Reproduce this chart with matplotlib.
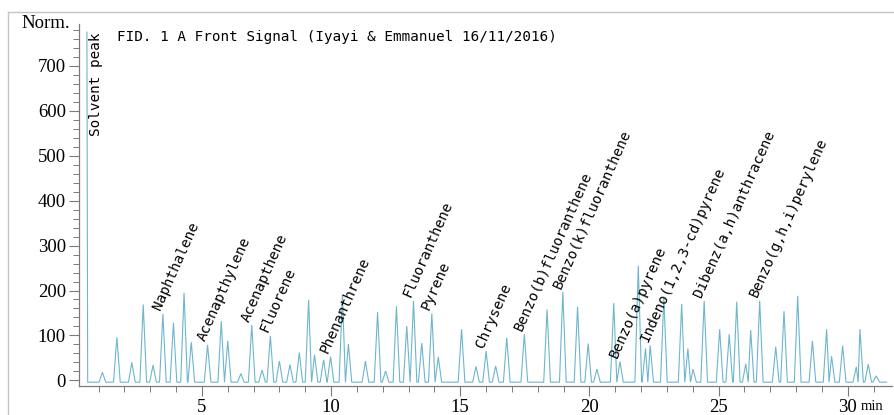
import matplotlib
matplotlib.use("Agg")
import matplotlib.pyplot as plt
from matplotlib.ticker import MultipleLocator, FixedLocator
from matplotlib.lines import Line2D

# retention time (min) and height (Norm.) of every peak
rt = [0.55, 1.15, 1.71, 2.29, 2.73, 3.11, 3.49, 3.90, 4.31, 4.59,
      5.22, 5.75, 6.00, 6.51, 6.93, 7.33, 7.65, 8.00, 8.41, 8.77,
      9.13, 9.36, 9.71, 9.98, 10.44, 10.67, 11.33, 11.80, 12.11, 12.53,
      12.93, 13.19, 13.51, 13.90, 14.15, 15.05, 15.61, 16.00, 16.37, 16.80,
      17.48, 18.36, 18.97, 19.54, 19.95, 20.29, 20.94, 21.18, 21.89, 22.17,
      22.35, 22.88, 23.57, 23.81, 24.01, 24.44, 25.04, 25.41, 25.70, 26.05,
      26.24, 26.59, 27.21, 27.53, 28.06, 28.63, 29.18, 29.37, 29.80, 30.33,
      30.47, 30.79, 31.10]
height = [775, 18, 96, 40, 169, 34, 148, 128, 195, 85,
          79, 132, 88, 15, 123, 23, 99, 43, 35, 62,
          179, 57, 46, 53, 191, 81, 43, 152, 21, 165,
          121, 177, 83, 149, 52, 114, 31, 65, 32, 95,
          103, 158, 197, 164, 82, 25, 172, 42, 255, 71,
          78, 183, 170, 71, 25, 177, 114, 103, 175, 37,
          112, 177, 75, 154, 188, 88, 114, 54, 77, 30,
          114, 36, 10]
baseline = -4
signal_end = 31.5

compound_rt = [3.49, 5.22, 6.93, 7.65, 9.98, 13.19, 13.90, 16.00,
               17.48, 18.97, 21.18, 22.35, 24.44, 26.59]
compound_names = ["Naphthalene", "Acenapthylene", "Acenapthene", "Fluorene",
                  "Phenanthrene", "Fluoranthene", "Pyrene", "Chrysene",
                  "Benzo(b)fluoranthene", "Benzo(k)fluoranthene",
                  "Benzo(a)pyrene", "Indeno(1,2,3-cd)pyrene",
                  "Dibenz(a,h)anthracene", "Benzo(g,h,i)perylene"]

title = "FID. 1 A Front Signal (Iyayi & Emmanuel 16/11/2016)"
xticks = [5, 10, 15, 20, 25, 30]
yticks = [0, 100, 200, 300, 400, 500, 600, 700]

trace_color = "#6db6ce"
axis_color = "#7a7a7a"
mono = "DejaVu Sans Mono"
serif = "Liberation Serif"

# trace: each peak as baseline -> apex -> baseline
w = 0.13
tx = [rt[0], rt[0] + 0.03]
ty = [height[0], baseline]
for i in range(1, len(rt)):
    left = max(rt[i] - w, (rt[i - 1] + rt[i]) / 2)
    if i + 1 < len(rt):
        right = min(rt[i] + w, (rt[i] + rt[i + 1]) / 2)
    else:
        right = rt[i] + w
    tx += [left, rt[i], right]
    ty += [baseline, height[i], baseline]
tx.append(signal_end)
ty.append(baseline)

W, H = 894, 415
fig = plt.figure(figsize=(W / 100, H / 100), dpi=100)
ax = fig.add_axes([79 / W, (H - 386) / H, (892 - 79) / W, (386 - 24) / H])

ax.plot(tx, ty, color=trace_color, lw=0.8, solid_joinstyle="miter")

ax.set_xlim(0.244, 31.71)
ax.set_ylim(-12.5, 793)

for s in ["top", "right"]:
    ax.spines[s].set_visible(False)
for s in ["left", "bottom"]:
    ax.spines[s].set_color(axis_color)
    ax.spines[s].set_linewidth(0.9)

ax.xaxis.set_major_locator(FixedLocator(xticks))
ax.set_xticklabels([str(v) for v in xticks])
ax.xaxis.set_minor_locator(MultipleLocator(1))
ax.yaxis.set_major_locator(FixedLocator(yticks))
ax.set_yticklabels([str(v) for v in yticks])
ax.yaxis.set_minor_locator(MultipleLocator(20))

ax.tick_params(which="major", length=7, width=0.8, color=axis_color,
               labelsize=13.5, pad=2.5)
ax.tick_params(which="minor", length=4, width=0.7, color=axis_color)
for lab in ax.get_xticklabels() + ax.get_yticklabels():
    lab.set_fontfamily(serif)

ax.text(-0.011, 1.0, "Norm.", transform=ax.transAxes, ha="right", va="center",
        family=serif, size=13.5)
ax.annotate("min", xy=(30, 0), xycoords=("data", "axes fraction"),
            xytext=(9, -17), textcoords="offset points",
            ha="left", va="baseline", family=serif, size=10.5)

# peak labels
ax.annotate("Solvent peak", xy=(rt[0], height[0]), xytext=(1.5, 0),
            textcoords="offset points", rotation=90, rotation_mode="anchor",
            ha="right", va="top", family=mono, size=10.3)
for t, name in zip(compound_rt, compound_names):
    h = height[rt.index(t)]
    ax.annotate(name, xy=(t, h), xytext=(0, 1), textcoords="offset points",
                rotation=66, rotation_mode="anchor", ha="left", va="bottom",
                family=mono, size=10.3)

fig.text(117 / W, 1 - 37 / H, title, ha="left", va="center", family=mono,
         size=10.3)

# light frame around the plot window
frame = "#c4c4c4"
fig.add_artist(Line2D([8 / W, 1], [1 - 12 / H, 1 - 12 / H],
                      transform=fig.transFigure, color=frame, lw=1))
fig.add_artist(Line2D([8 / W, 8 / W], [0, 1 - 12 / H],
                      transform=fig.transFigure, color=frame, lw=1))

fig.savefig("out.png", dpi=100)
